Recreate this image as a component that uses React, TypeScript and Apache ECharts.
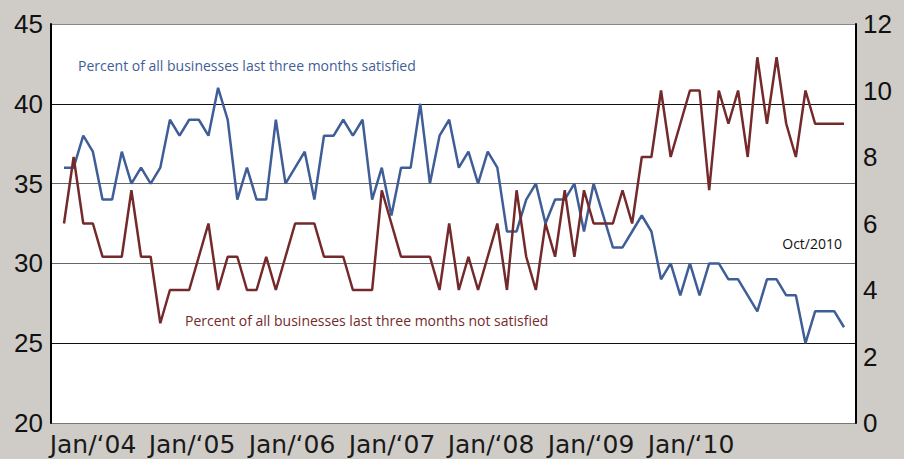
import React, { useEffect, useRef } from "react";
import * as echarts from "echarts";

// Monthly, Jan 2004 .. Oct 2010 (82 months)
const satisfied = [
  36, 36, 38, 37, 34, 34, 37, 35, 36, 35, 36, 39, 38, 39, 39, 38, 41, 39, 34, 36, 34, 34, 39, 35,
  36, 37, 34, 38, 38, 39, 38, 39, 34, 36, 33, 36, 36, 40, 35, 38, 39, 36, 37, 35, 37, 36, 32, 32, 34, 35,
  32.5, 34, 34, 35, 32, 35, 33, 31, 31, 32, 33, 32, 29, 30, 28, 30, 28, 30, 30, 29,
  29, 28, 27, 29, 29, 28, 28, 25, 27, 27, 27, 26,
];
const notSatisfied = [
  6, 8, 6, 6, 5, 5, 5, 7, 5, 5, 3, 4, 4, 4, 5, 6, 4, 5, 5, 4, 4, 5, 4, 5, 6,
  6, 6, 5, 5, 5, 4, 4, 4, 7, 6, 5, 5, 5, 5, 4, 6, 4, 5, 4, 5, 6, 4, 7, 5, 4,
  6, 5, 7, 5, 7, 6, 6, 6, 7, 6, 8, 8, 10, 8, 9, 10, 10, 7, 10, 9,
  10, 8, 11, 9, 11, 9, 8, 10, 9, 9, 9, 9,
];
const xLabels = ["Jan/\u201804", "Jan/\u201805", "Jan/\u201806", "Jan/\u201807", "Jan/\u201808", "Jan/\u201809", "Jan/\u201810"];
const leftTicks = { min: 20, max: 45, interval: 5 };
const rightTicks = { min: 0, max: 12, interval: 2 };
const labelSatisfied = "Percent of all businesses last three months satisfied";
const labelNotSatisfied = "Percent of all businesses last three months not satisfied";
const labelDate = "Oct/2010";

const BLUE = "#3f5e97";
const RED = "#742a2b";

export default function App() {
  const ref = useRef<HTMLDivElement>(null);
  useEffect(() => {
    if (!ref.current) return;
    const chart = echarts.init(ref.current, null, { renderer: "svg" });
    // label axis: one category per pixel of grid width
    const gridW = 805;
    const labelIdx = xLabels.map((_, k) => Math.round(41.5 + 99.7 * k));
    const labelAxisData = Array.from({ length: gridW + 1 }, (_, i) => {
      const k = labelIdx.indexOf(i);
      return k >= 0 ? xLabels[k] : "";
    });
    chart.setOption({
      animation: false,
      backgroundColor: "#cfccc7",
      grid: {
        left: 51,
        right: 48,
        top: 24,
        bottom: 36,
        show: true,
        backgroundColor: "#ffffff",
        borderWidth: 0,
      },
      xAxis: [
        {
          type: "value",
          min: -1.35,
          max: 82.246,
          show: false,
        },
        {
          type: "category",
          position: "bottom",
          boundaryGap: false,
          data: labelAxisData,
          axisLine: { show: false },
          axisTick: { show: false },
          splitLine: { show: false },
          axisLabel: {
            interval: (i: number) => labelIdx.indexOf(i) >= 0,
            margin: 9,
            fontFamily: "DejaVu Sans",
            fontSize: 25,
            color: "#1a1a1a",
          },
        },
      ],
      yAxis: [
        {
          type: "value",
          position: "left",
          min: leftTicks.min,
          max: leftTicks.max,
          interval: leftTicks.interval,
          axisLine: { show: true, onZero: false, lineStyle: { color: "#000", width: 2 } },
          axisTick: { show: false },
          axisLabel: { margin: 8, fontFamily: "Liberation Sans", fontSize: 26, color: "#111" },
          splitLine: {
            show: true,
            lineStyle: { color: ["#777", "#111", "#666", "#666", "#111", "#888"], width: 1 },
          },
        },
        {
          type: "value",
          position: "right",
          min: rightTicks.min,
          max: rightTicks.max,
          interval: rightTicks.interval,
          axisLine: { show: true, onZero: false, lineStyle: { color: "#000", width: 2 } },
          axisTick: { show: false },
          axisLabel: { margin: 7, fontFamily: "Liberation Sans", fontSize: 26, color: "#111" },
          splitLine: { show: false },
        },
      ],
      series: [
        {
          type: "line",
          xAxisIndex: 0,
          yAxisIndex: 0,
          data: satisfied.map((v, i) => [i, v]),
          symbol: "none",
          lineStyle: { color: BLUE, width: 2.5 },
        },
        {
          type: "line",
          xAxisIndex: 0,
          yAxisIndex: 1,
          data: notSatisfied.map((v, i) => [i, v]),
          symbol: "none",
          lineStyle: { color: RED, width: 2.5 },
        },
      ],
      graphic: [
        {
          type: "text",
          left: 78,
          top: 58,
          style: { text: labelSatisfied, fill: BLUE, font: "14px 'Open Sans'" },
        },
        {
          type: "text",
          left: 185,
          top: 313,
          style: { text: labelNotSatisfied, fill: RED, font: "14px 'Open Sans'" },
        },
        {
          type: "text",
          right: 62,
          top: 236,
          style: { text: labelDate, fill: "#111", font: "14px 'Open Sans'" },
        },
      ],
    });
    return () => chart.dispose();
  }, []);
  return (
    <div
      ref={ref}
      style={{ position: "fixed", left: 0, top: 0, width: 904, height: 459 }}
    />
  );
}
